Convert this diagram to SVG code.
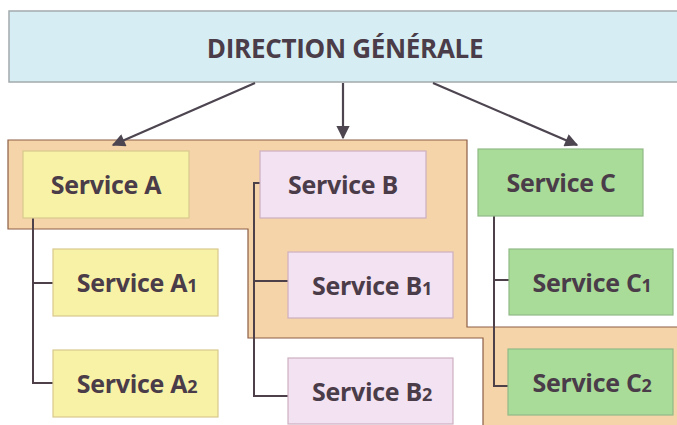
<svg xmlns="http://www.w3.org/2000/svg" width="677" height="425" viewBox="0 0 677 425">
<style>
  .t { font-family: "Open Sans", "Liberation Sans", sans-serif; font-weight: bold; fill: #4a3c48; text-anchor: middle; }
  .svc { font-size: 25px; letter-spacing: -0.3px; }
  .sub { font-size: 18px; }
  .y { fill: #f8f2a6; stroke: #d9c98e; stroke-width: 1.2; }
  .p { fill: #f3e2f1; stroke: #cdb0c0; stroke-width: 1.2; }
  .g { fill: #a9dc99; stroke: #8fb985; stroke-width: 1.2; }
  .ln { fill: none; stroke: #4d4048; stroke-width: 2; }
  .arr { fill: none; stroke: #4d4550; stroke-width: 2.2; marker-end: url(#ah); }
</style>
<defs>
  <marker id="ah" viewBox="0 0 10 10" refX="9" refY="5" markerWidth="7" markerHeight="6" markerUnits="strokeWidth" orient="auto">
    <path d="M0,0 L10,5 L0,10 z" fill="#4d4550"/>
  </marker>
</defs>
<rect width="677" height="425" fill="#ffffff"/>
<g id="zone">
  <polygon points="8,140 467,140 467,327 680,327 680,428 483,428 483,338 248,338 248,229 8,229" fill="#f6d4a9" stroke="#8c5e45" stroke-width="1.2"/>
</g>
<g id="direction">
  <rect x="9" y="11" width="672" height="71" fill="#d6eef3" stroke="#a3aaad" stroke-width="1.5"/>
  <text class="t" x="345" y="58" font-size="26" letter-spacing="-0.3">DIRECTION GÉNÉRALE</text>
</g>
<g id="connectors">
  <line class="arr" x1="255" y1="83" x2="113" y2="145"/>
  <line class="arr" x1="343" y1="83" x2="343" y2="138"/>
  <line class="arr" x1="433" y1="83" x2="577" y2="145"/>
  <path class="ln" d="M33,218 V383 H53 M33,283 H53"/>
  <path class="ln" d="M260,183 H254 V396 H288 M254,281 H288"/>
  <path class="ln" d="M494,216 V386 H508 M494,280 H509"/>
</g>
<g id="service-a">
  <rect class="y" x="23" y="151" width="166" height="67"/>
  <text class="t svc" x="106" y="194">Service A</text>
</g>
<g id="service-b">
  <rect class="p" x="260" y="151" width="166" height="67"/>
  <text class="t svc" x="343" y="194">Service B</text>
</g>
<g id="service-c">
  <rect class="g" x="478" y="149" width="165" height="67"/>
  <text class="t svc" x="561" y="192">Service C</text>
</g>
<g id="service-a1">
  <rect class="y" x="53" y="249" width="165" height="67"/>
  <text class="t svc" x="137" y="292">Service A<tspan class="sub">1</tspan></text>
</g>
<g id="service-a2">
  <rect class="y" x="53" y="350" width="165" height="67"/>
  <text class="t svc" x="137" y="393">Service A<tspan class="sub">2</tspan></text>
</g>
<g id="service-b1">
  <rect class="p" x="288" y="252" width="165" height="66"/>
  <text class="t svc" x="372" y="295">Service B<tspan class="sub">1</tspan></text>
</g>
<g id="service-b2">
  <rect class="p" x="288" y="358" width="165" height="66"/>
  <text class="t svc" x="372" y="401">Service B<tspan class="sub">2</tspan></text>
</g>
<g id="service-c1">
  <rect class="g" x="509" y="249" width="164" height="66"/>
  <text class="t svc" x="592" y="292">Service C<tspan class="sub">1</tspan></text>
</g>
<g id="service-c2">
  <rect class="g" x="508" y="349" width="165" height="66"/>
  <text class="t svc" x="592" y="392">Service C<tspan class="sub">2</tspan></text>
</g>
</svg>
